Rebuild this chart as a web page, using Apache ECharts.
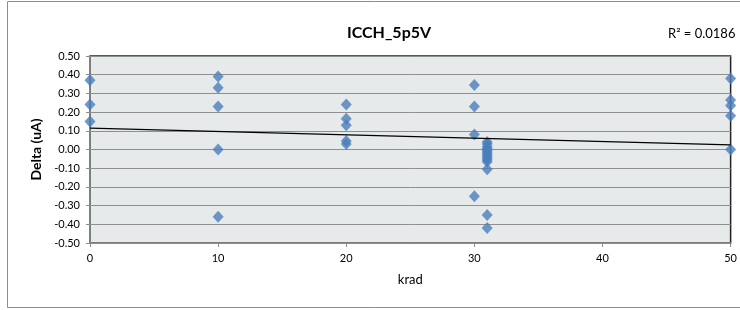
<!DOCTYPE html>
<html>
<head>
<meta charset="utf-8">
<script src="https://cdn.jsdelivr.net/npm/echarts@6/dist/echarts.min.js"></script>
<style>
  html, body { margin: 0; padding: 0; background: #fff; }
  #chart { width: 740px; height: 310px; }
</style>
</head>
<body>
<div id="chart"></div>
<script>
// krad dose per group and measured delta (uA)
const doses = [0, 10, 20, 30, 31, 50]
const deltas = [
  [0.37, 0.24, 0.15],
  [0.39, 0.33, 0.23, 0.00, -0.36],
  [0.24, 0.165, 0.13, 0.045, 0.03],
  [0.345, 0.23, 0.08, -0.25],
  [0.04, 0.03, 0.015, 0.005, -0.005, -0.015, -0.025, -0.035, -0.045, -0.055, -0.065, -0.105, -0.35, -0.42],
  [0.38, 0.265, 0.235, 0.18, 0.00],
]
const xTicks = [0, 10, 20, 30, 40, 50]
const titleText = 'ICCH_5p5V'
const r2Text = 'R² = 0.0186'
const xName = 'krad'
const yName = 'Delta (uA)'

const points = []
doses.forEach((d, i) => {
  deltas[i].forEach(v => points.push([d, v]))
})

// linear least squares for the trendline
function fitLine(pts) {
  const n = pts.length
  let sx = 0, sy = 0, sxx = 0, sxy = 0
  pts.forEach(([x, y]) => {
    sx += x; sy += y; sxx += x * x; sxy += x * y
  })
  const slope = (n * sxy - sx * sy) / (n * sxx - sx * sx)
  const icpt = (sy - slope * sx) / n
  return { slope, icpt }
}
const fit = fitLine(points)
const xMin = xTicks[0]
const xMax = xTicks[xTicks.length - 1]
const trend = [
  [xMin, fit.icpt + fit.slope * xMin],
  [xMax, fit.icpt + fit.slope * xMax],
]

const font = 'Lato, "Liberation Sans", sans-serif'
const myChart = echarts.init(document.getElementById('chart'), null, { renderer: 'canvas' })
myChart.setOption({
  animation: false,
  textStyle: { fontFamily: font },
  title: {
    text: titleText,
    left: 384,
    textAlign: 'center',
    top: 20,
    textStyle: { fontSize: 16, fontWeight: 'bold', color: '#000', fontFamily: font },
  },
  graphic: [
    {
      type: 'rect',
      shape: { x: 7.5, y: 1.5, width: 760, height: 306 },
      style: { fill: 'none', stroke: '#8c8c8c', lineWidth: 1 },
      silent: true,
      z: -10,
    },
    {
      type: 'text',
      left: 668,
      top: 27,
      style: { text: r2Text, fontSize: 13, fill: '#000', fontFamily: font },
    },
  ],
  grid: {
    left: 90,
    right: 5,
    top: 56,
    bottom: 67,
    show: true,
    backgroundColor: '#e6eaea',
    borderColor: '#222',
    borderWidth: 1.5,
  },
  xAxis: {
    type: 'value',
    min: xMin,
    max: xMax,
    interval: 10,
    name: xName,
    nameLocation: 'middle',
    nameGap: 30,
    nameTextStyle: { fontSize: 13, color: '#000', fontFamily: font },
    axisLine: { show: true, onZero: false, lineStyle: { color: '#8c8c8c', width: 1.5 } },
    axisTick: { show: true, inside: false, length: 4, lineStyle: { color: '#8c8c8c' } },
    axisLabel: { fontSize: 11, color: '#000', margin: 10, fontFamily: font },
    splitLine: { show: false },
  },
  yAxis: {
    type: 'value',
    min: -0.5,
    max: 0.5,
    interval: 0.1,
    name: yName,
    nameLocation: 'middle',
    nameGap: 44,
    nameRotate: 90,
    nameTextStyle: { fontSize: 14, fontWeight: 'bold', color: '#000', fontFamily: font },
    axisLine: { show: true, onZero: false, lineStyle: { color: '#8c8c8c', width: 1.5 } },
    axisTick: { show: true, inside: false, length: 4, lineStyle: { color: '#8c8c8c' } },
    axisLabel: {
      fontSize: 11,
      color: '#000',
      margin: 10,
      fontFamily: font,
      formatter: v => v.toFixed(2),
    },
    splitLine: { show: true, lineStyle: { color: '#8f8f8f', width: 1 } },
  },
  series: [
    {
      type: 'scatter',
      symbol: 'diamond',
      symbolSize: [11, 12],
      clip: false,
      itemStyle: { color: '#4a7ebb' },
      data: points,
      z: 3,
    },
    {
      type: 'line',
      data: trend,
      showSymbol: false,
      symbol: 'none',
      lineStyle: { color: '#000', width: 1.3 },
      z: 4,
    },
  ],
})
</script>
</body>
</html>
